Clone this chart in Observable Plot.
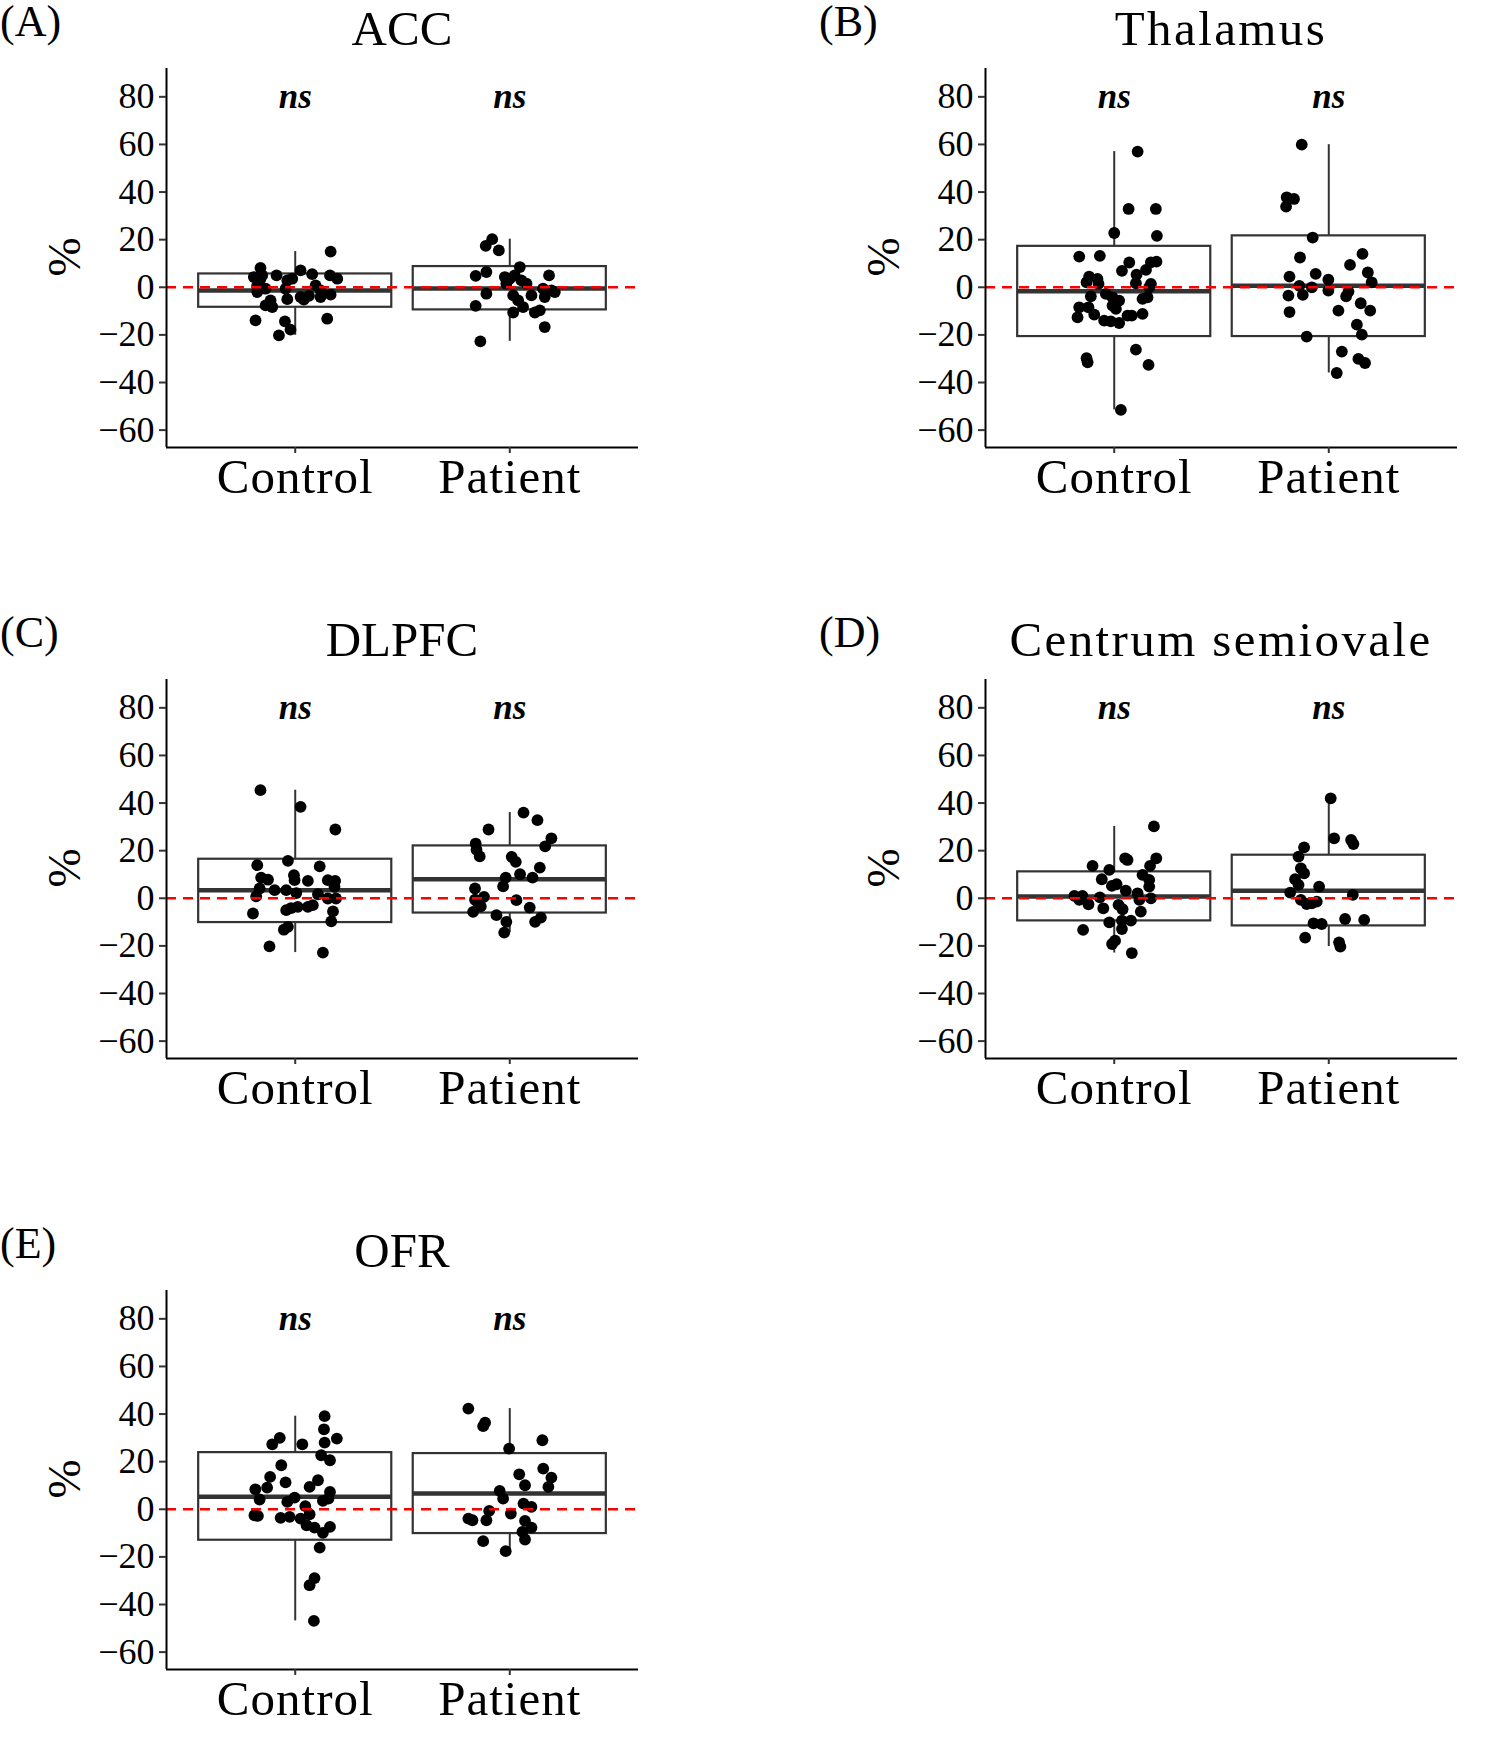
<!DOCTYPE html>
<html>
<head>
<meta charset="utf-8">
<script src="https://cdn.jsdelivr.net/npm/d3@7"></script>
<script src="https://cdn.jsdelivr.net/npm/@observablehq/plot@0.6"></script>
<style>
  html, body { margin: 0; padding: 0; background: #fff; }
  #page { position: relative; width: 1500px; height: 1739px; background: #fff; font-family: 'Liberation Serif', 'Times New Roman', serif; color: #000; }
  .panel { position: absolute; width: 660px; height: 520px; }
  .panel svg { position: absolute; left: 0; top: 0; }
  .panel svg text { font-family: 'Liberation Serif', 'Times New Roman', serif; }
  .letter { position: absolute; left: 0; top: 0; font-size: 44px; line-height: 44px; white-space: nowrap; }
  .title { position: absolute; left: 166px; width: 472px; top: 4px; font-size: 49px; line-height: 49px; text-align: center; white-space: nowrap; }
  .ylab { position: absolute; left: 64px; top: 257px; font-size: 47px; line-height: 47px; transform: translate(-50%, -50%) rotate(-90deg); white-space: nowrap; }
  .xcat text { letter-spacing: 1px; }
</style>
</head>
<body>
<div id="page"></div>
<script>
// ---------- data ----------
const groups = ["Control", "Patient"];
const sigLabels = ["ns", "ns"];
const yTicks = [-60, -40, -20, 0, 20, 40, 60, 80];
const yDomain = [-67.3, 91.9];
const sigY = 80;

// (A) ACC
const accControl = [15.0, 8.1, 4.3, 5.0, 5.0, 7.1, 5.5, 5.0, 3.6, 2.9, 3.6, 0.8, -0.6, -0.6, 0.8, -1.3, -2.0, -3.1, -4.1, -4.1, -3.6, -5.0, -5.5, -7.6, -8.3, -13.9, -14.3, -13.2, -17.8, -20.2, -5.2, 3.6];
const accControlJit = [0.165, -0.162, -0.193, -0.154, -0.087, 0.025, 0.079, 0.162, 0.196, -0.037, -0.014, -0.177, -0.138, -0.045, 0.095, 0.118, -0.177, 0.165, 0.118, 0.025, 0.064, -0.037, -0.115, -0.138, -0.107, -0.185, -0.048, 0.149, -0.022, -0.076, 0.04, -0.162];
const accPatient = [20.2, 17.4, 15.5, 6.4, 4.8, 8.5, 5.0, 4.3, 3.6, 5.0, 2.9, 1.5, 1.5, -0.6, -1.3, -2.0, -2.7, -3.4, -3.4, -4.1, -5.5, -7.8, -8.3, -10.6, -10.6, -9.7, -16.7, -22.7];
const accPatientJit = [-0.082, -0.112, -0.051, -0.109, -0.159, 0.047, 0.183, -0.023, 0, 0.023, 0.054, 0.078, -0.016, 0.155, 0.194, 0.21, -0.109, 0.016, 0.101, 0.163, 0.039, -0.159, 0.062, 0.016, 0.117, 0.140, 0.163, -0.137];
const accBoxControl = [-20.2, -8.4, -1.4, 5.6, 15.0];
const accBoxPatient = [-22.7, -9.5, -0.5, 8.7, 20.2];

// (B) Thalamus
const thaControl = [57.0, 32.9, 32.9, 22.8, 21.6, 12.9, 13.2, 10.4, 6.9, 10.8, 10.5, 7.3, 5.3, 4.5, 2.1, 3.5, 1.4, 1.7, 1.4, 0, -3.8, -2.8, -4.2, -5.6, -7.7, -9.1, -4.9, -4.2, -8.4, -8.4, -12.6, -11.5, -14.0, -14.3, -15.0, -11.9, -11.9, -11.2, -26.2, -29.8, -31.5, -32.6, -51.5];
const thaControlJit = [0.109, 0.067, 0.194, 0, 0.199, -0.163, -0.067, 0.070, 0.036, 0.197, 0.171, 0.148, 0.104, -0.117, -0.129, -0.078, -0.073, 0.101, 0.171, 0.163, -0.109, -0.039, -0.008, 0.023, -0.008, 0.008, 0.132, 0.155, -0.163, -0.120, -0.171, -0.093, -0.047, -0.016, 0.023, 0.062, 0.082, 0.132, 0.101, -0.129, -0.124, 0.160, 0.031];
const thaPatient = [59.9, 37.8, 37.1, 33.9, 20.9, 12.5, 14.0, 9.4, 6.2, 2.1, 4.5, 5.6, 3.2, 0.6, 0, -3.5, -3.2, -1.4, -1.8, -3.8, -10.4, -9.8, -6.7, -9.8, -15.7, -19.9, -20.7, -27.0, -30.1, -31.8, -36.0];
const thaPatientJit = [-0.126, -0.196, -0.162, -0.199, -0.075, -0.134, 0.157, 0.099, 0.182, 0.2, -0.183, -0.061, -0.002, -0.137, -0.079, -0.188, -0.121, -0.002, 0.092, 0.081, -0.183, 0.045, 0.149, 0.193, 0.131, 0.154, -0.103, 0.061, 0.138, 0.169, 0.037];
const thaBoxControl = [-51.5, -20.7, -1.7, 17.2, 57.0];
const thaBoxPatient = [-36.0, -20.7, 0.6, 21.6, 59.9];

// (C) DLPFC
const dlpControl = [45.4, 38.4, 28.9, 15.7, 13.9, 13.4, 8.7, 7.8, 9.7, 7.6, 7.3, 7.6, 7.3, 4.8, 4.1, 3.4, 3.4, 2.2, 0.8, 1.7, -0.1, -0.1, -2.9, -3.6, -4.1, -5.0, -3.6, -6.4, -5.5, -9.7, -12.0, -13.2, -20.2, -22.8];
const dlpControlJit = [-0.162, 0.025, 0.187, -0.034, -0.177, 0.114, -0.159, -0.127, -0.006, -0.003, 0.059, 0.152, 0.186, 0.183, -0.166, -0.096, -0.042, 0.005, -0.182, 0.106, 0.152, 0.190, 0.082, 0.012, -0.019, -0.042, 0.059, -0.197, 0.176, 0.168, -0.034, -0.053, -0.120, 0.129];
const dlpPatient = [36.0, 32.8, 28.9, 25.2, 21.8, 23.0, 20.4, 17.6, 17.4, 15.3, 12.9, 10.1, 8.7, 8.7, 5.0, 4.1, 0.6, -0.6, -1.5, -3.4, -0.8, -3.9, -5.7, -7.1, -9.9, -8.1, -9.9, -14.4];
const dlpPatientJit = [0.064, 0.129, -0.099, 0.194, 0.165, -0.159, -0.155, -0.140, 0.009, 0.028, 0.140, 0.048, 0.106, -0.019, -0.031, -0.162, -0.120, -0.162, -0.151, -0.135, 0.031, 0.093, -0.171, -0.062, -0.016, 0.145, 0.118, -0.026];
const dlpBoxControl = [-22.8, -10.2, 3.4, 16.4, 45.4];
const dlpBoxPatient = [-14.4, -6.2, 8.0, 22.0, 36.0];

// (D) Centrum semiovale
const csoControl = [30.2, 16.8, 16.8, 16.1, 13.6, 11.9, 13.6, 9.8, 8.0, 7.7, 4.9, 5.2, 5.9, 3.2, 2.1, 1.0, 1.0, 0.4, 0, -0.7, -2.5, -0.7, -4.2, -4.6, -5.6, -2.8, -10.1, -9.4, -9.4, -13.3, -12.9, -17.8, -19.2, -23.0];
const csoControlJit = [0.185, 0.196, 0.051, 0.062, -0.101, -0.023, 0.167, 0.132, -0.058, 0.163, 0.163, -0.011, 0.011, 0.054, 0.109, -0.186, -0.148, -0.067, 0.171, -0.163, -0.120, 0.117, -0.051, 0.039, 0.124, 0.020, -0.023, 0.036, 0.078, -0.145, 0.036, 0.004, -0.010, 0.082];
const csoPatient = [42.0, 25.2, 24.5, 22.8, 21.4, 17.5, 12.6, 10.5, 8.0, 5.6, 4.9, 2.4, 1.4, -0.7, -2.4, -1.4, -2.1, -10.5, -10.8, -8.7, -9.1, -16.5, -18.5, -20.3];
const csoPatientJit = [0.009, 0.025, 0.104, 0.115, -0.115, -0.141, -0.130, -0.115, -0.157, -0.141, -0.045, -0.180, 0.112, -0.130, -0.103, -0.056, -0.079, -0.071, -0.033, 0.076, 0.165, -0.110, 0.048, 0.054];
const csoBoxControl = [-23.0, -9.5, 0.7, 11.1, 30.2];
const csoBoxPatient = [-20.3, -11.6, 3.2, 18.1, 42.0];

// (E) OFR
const ofrControl = [39.1, 33.6, 29.7, 28.0, 30.0, 27.3, 27.3, 22.7, 20.6, 18.5, 13.6, 11.3, 12.2, 9.4, 9.1, 8.4, 7.3, 4.5, 3.5, 4.1, 4.9, 3.1, 1.3, -2.1, -2.5, -2.8, -3.6, -3.2, -3.9, -6.7, -7.7, -9.9, -7.4, -16.1, -28.9, -31.9, -46.9];
const ofrControlJit = [0.137, 0.134, 0.194, 0.137, -0.072, -0.107, 0.033, 0.121, 0.162, -0.065, -0.117, -0.045, 0.106, 0.067, -0.131, -0.186, 0.162, 0.155, 0.129, -0.166, -0.003, -0.037, 0.047, 0.067, -0.190, -0.174, -0.068, -0.026, 0.025, 0.053, 0.090, 0.129, 0.162, 0.114, 0.090, 0.067, 0.087];
const ofrPatient = [42.3, 36.4, 34.9, 29.0, 25.5, 17.1, 13.3, 9.4, 14.7, 10.1, 7.7, 4.5, 2.4, 1.0, -0.7, -1.8, -3.9, -4.6, -4.6, -4.9, -7.7, -9.5, -12.7, -13.4, -17.6];
const ofrPatientJit = [-0.193, -0.115, -0.124, 0.152, -0.003, 0.156, 0.194, 0.180, 0.044, 0.071, -0.047, -0.031, 0.064, 0.101, -0.096, 0.005, -0.193, -0.174, -0.109, 0.071, 0.101, 0.059, 0.071, -0.124, -0.019];
const ofrBoxControl = [-46.9, -13.0, 5.3, 23.8, 39.1];
const ofrBoxPatient = [-17.6, -10.2, 6.6, 23.4, 42.3];

const panelLetters = ["(A)", "(B)", "(C)", "(D)", "(E)"];
const regionTitles = ["ACC", "Thalamus", "DLPFC", "Centrum semiovale", "OFR"];

// ---------- layout ----------
const panelDefs = [
  {cv: accControl, cj: accControlJit, pv: accPatient, pj: accPatientJit, bc: accBoxControl, bp: accBoxPatient, left: 0, top: 0},
  {cv: thaControl, cj: thaControlJit, pv: thaPatient, pj: thaPatientJit, bc: thaBoxControl, bp: thaBoxPatient, left: 819, top: 0},
  {cv: dlpControl, cj: dlpControlJit, pv: dlpPatient, pj: dlpPatientJit, bc: dlpBoxControl, bp: dlpBoxPatient, left: 0, top: 611},
  {cv: csoControl, cj: csoControlJit, pv: csoPatient, pj: csoPatientJit, bc: csoBoxControl, bp: csoBoxPatient, left: 819, top: 611},
  {cv: ofrControl, cj: ofrControlJit, pv: ofrPatient, pj: ofrPatientJit, bc: ofrBoxControl, bp: ofrBoxPatient, left: 0, top: 1222}
];

const serif = "Liberation Serif";
const minusFmt = d => d < 0 ? "\u2212" + Math.abs(d) : String(d);

function chart(p) {
  const pts = [];
  p.cv.forEach((v, k) => pts.push({g: 1, v, j: p.cj[k]}));
  p.pv.forEach((v, k) => pts.push({g: 2, v, j: p.pj[k]}));
  const boxes = [p.bc, p.bp].map((b, k) => ({g: k + 1, lo: b[0], q1: b[1], med: b[2], q3: b[3], hi: b[4]}));
  return Plot.plot({
    width: 660, height: 520,
    marginLeft: 166, marginRight: 22, marginTop: 68, marginBottom: 73,
    style: {fontFamily: "'Liberation Serif', 'Times New Roman', serif", background: "transparent", color: "black", overflow: "visible"},
    x: {domain: [0.4, 2.6], axis: null},
    y: {domain: yDomain, axis: null},
    marks: [
      Plot.ruleX(boxes, {x: "g", y1: "q3", y2: "hi", stroke: "#333", strokeWidth: 2}),
      Plot.ruleX(boxes, {x: "g", y1: "lo", y2: "q1", stroke: "#333", strokeWidth: 2}),
      Plot.rect(boxes, {x1: d => d.g - 0.45, x2: d => d.g + 0.45, y1: "q1", y2: "q3", fill: "white", stroke: "#333", strokeWidth: 2.2}),
      Plot.ruleY(boxes, {y: "med", x1: d => d.g - 0.45, x2: d => d.g + 0.45, stroke: "#333", strokeWidth: 4.5}),
      Plot.dot(pts, {x: d => d.g + d.j, y: "v", r: 5.9, fill: "black", stroke: null}),
      Plot.ruleY([0], {stroke: "red", strokeWidth: 2.5, strokeDasharray: "10,7"}),
      Plot.text(groups, {x: (d, i) => i + 1, y: () => sigY, text: (d, i) => sigLabels[i], fontFamily: serif, fontSize: 35, fontStyle: "italic", fontWeight: "bold", fill: "black"}),
      Plot.ruleX([0.4], {stroke: "black", strokeWidth: 2}),
      Plot.ruleY([yDomain[0]], {stroke: "black", strokeWidth: 2}),
      Plot.axisY({ticks: yTicks, label: null, tickSize: 7, tickPadding: 5, fontFamily: serif, fontSize: 36, stroke: "#333", strokeWidth: 2, fill: "black", tickFormat: minusFmt}),
      Plot.axisX({ticks: [1, 2], label: null, tickSize: 6, tickPadding: 5, fontFamily: serif, fontSize: 49, stroke: "#333", strokeWidth: 2, fill: "black", tickFormat: d => groups[d - 1], className: "xcat"})
    ]
  });
}

const page = document.getElementById("page");
panelDefs.forEach((p, idx) => {
  const div = document.createElement("div");
  div.className = "panel";
  div.style.left = p.left + "px";
  div.style.top = p.top + "px";
  div.appendChild(chart(p));
  const letter = document.createElement("div");
  letter.className = "letter";
  letter.textContent = panelLetters[idx];
  div.appendChild(letter);
  const title = document.createElement("div");
  title.className = "title";
  title.textContent = regionTitles[idx];
  if (/[a-z]/.test(regionTitles[idx])) title.style.letterSpacing = "2.4px";
  div.appendChild(title);
  const ylab = document.createElement("div");
  ylab.className = "ylab";
  ylab.textContent = "%";
  div.appendChild(ylab);
  page.appendChild(div);
});
</script>
</body>
</html>
